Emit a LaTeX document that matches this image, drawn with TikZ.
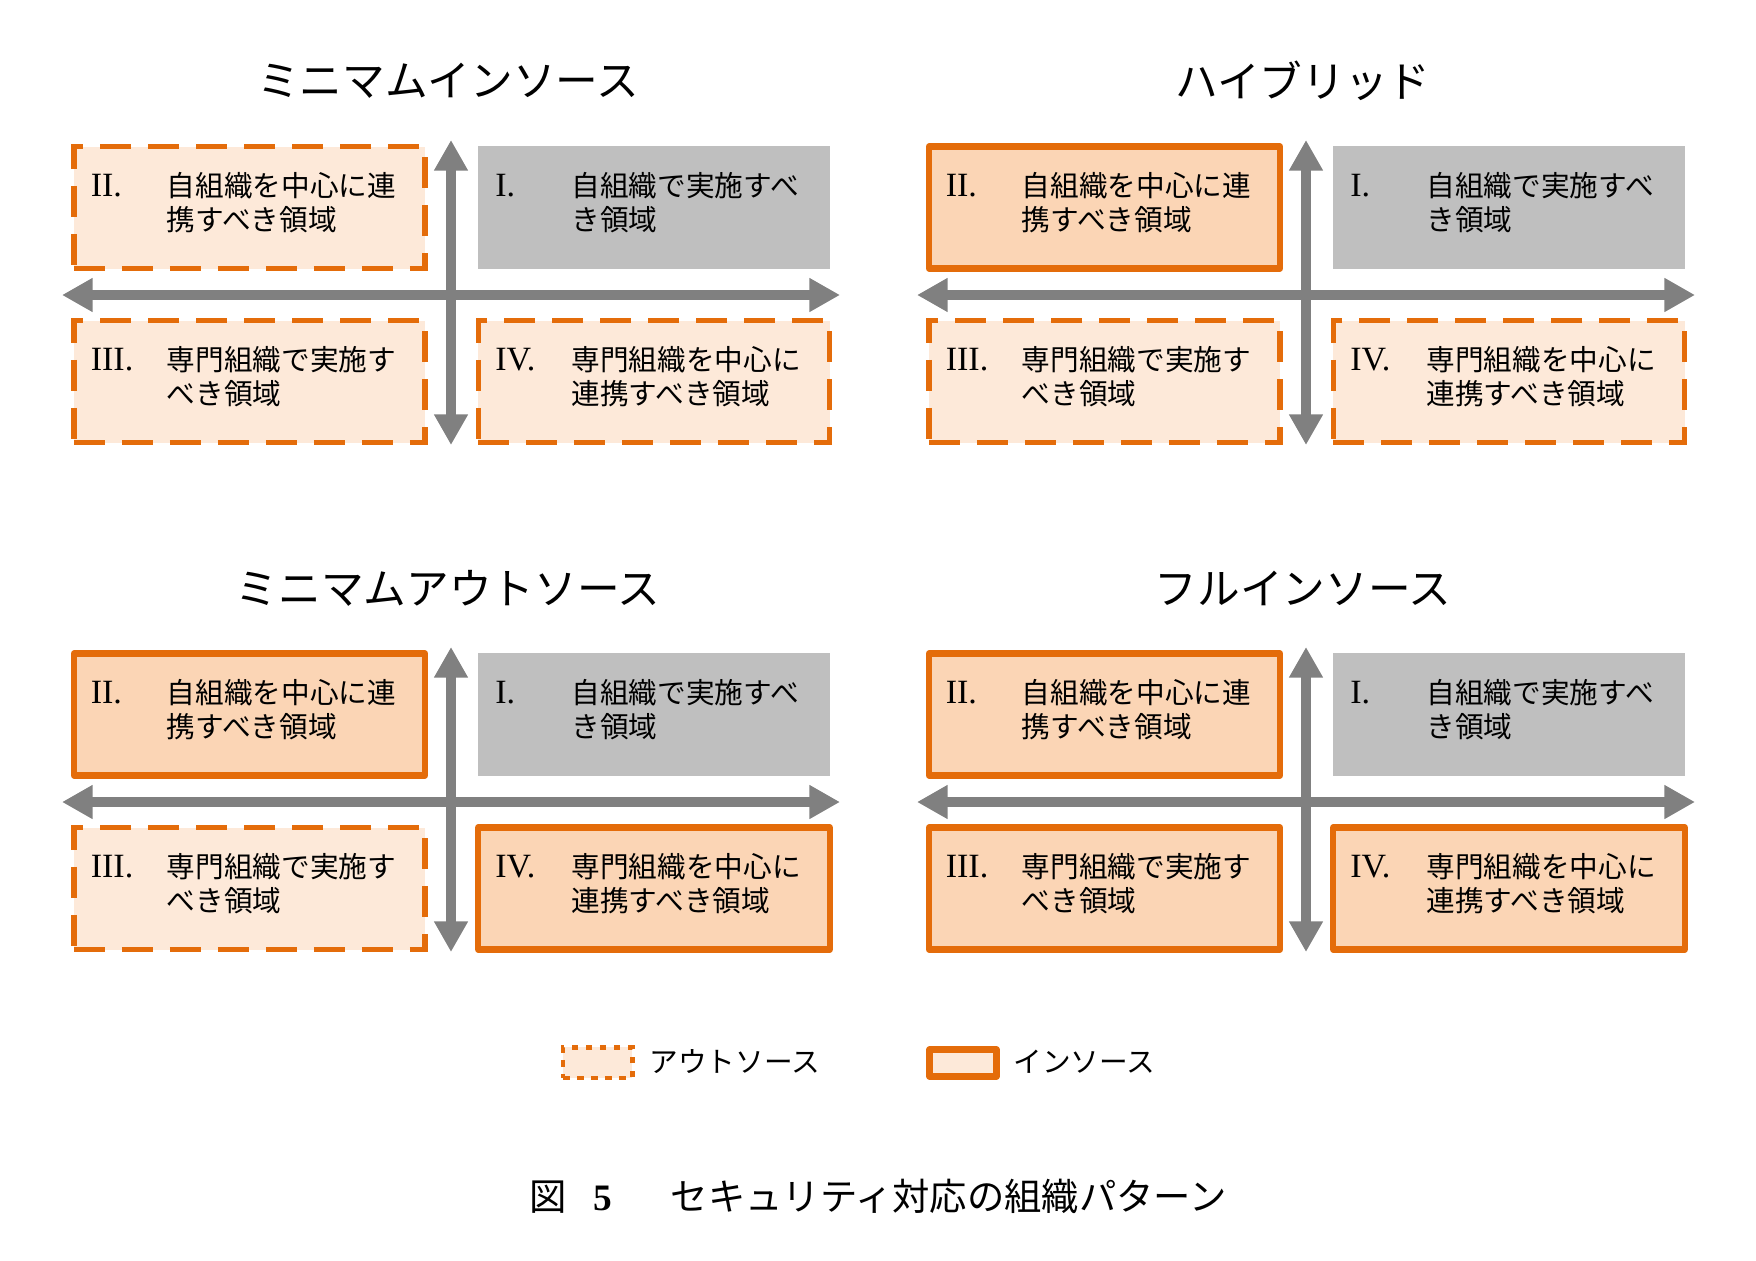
\documentclass[tikz,border=0pt]{standalone}
\usepackage{fontspec}
\setmainfont{Noto Sans CJK JP}
\newfontfamily\numfont{Liberation Serif}
\usetikzlibrary{arrows.meta}

\definecolor{boxorange}{RGB}{228,108,10}
\definecolor{outfill}{RGB}{253,233,217}
\definecolor{infill}{RGB}{251,213,181}
\definecolor{selfgray}{RGB}{191,191,191}
\definecolor{axisgray}{RGB}{128,128,128}

% numeral + two lines of area text
\newcommand{\qtext}[3]{\makebox[57pt][l]{\numfont\fontsize{25.5}{25.5}\selectfont #1}#2\\\hspace*{57pt}#3\rule[-9.5pt]{0pt}{0pt}}

\tikzset{every picture/.style={line width=0.75pt}}
\tikzset{
  quad/.style={align=left, text width=238pt, inner sep=0pt, font=\fontsize{21.5}{25.5}\selectfont},
  outbox/.style={quad, draw=boxorange, fill=outfill, line width=4.2pt, dash pattern=on 23pt off 13pt, minimum width=263.5pt, minimum height=91.5pt},
  inbox/.style={quad, draw=boxorange, fill=infill, line width=4.6pt, line join=round, minimum width=263.5pt, minimum height=91.5pt},
  selfbox/.style={quad, fill=selfgray, minimum width=264pt, minimum height=92pt},
  axis/.style={draw=axisgray, line width=7.5pt, {Triangle[length=23pt,width=24pt]}-{Triangle[length=23pt,width=24pt]}},
  patterntitle/.style={font=\fontsize{32}{38}\selectfont},
  legout/.style={draw=boxorange, fill=outfill, line width=3.5pt, dash pattern=on 5pt off 5.5pt, minimum width=52pt, minimum height=23pt, inner sep=0pt},
  legin/.style={draw=boxorange, fill=outfill, line width=5pt, line join=round, minimum width=50pt, minimum height=20pt, inner sep=0pt},
  legendtext/.style={font=\fontsize{21.5}{25}\selectfont, anchor=west, inner sep=0pt},
}

\begin{document}
\begin{tikzpicture}[x=0.75pt,y=0.75pt,yscale=-1,xscale=1]
\useasboundingbox (0,0) rectangle (1756,1260);

%Minimum insource (top left)
\node[patterntitle] (mititle) at (448,81) {ミニマムインソース};
\coordinate (miW) at (62,295);
\coordinate (miE) at (840,295);
\coordinate (miN) at (451,140);
\coordinate (miS) at (451,445);
\draw[axis] (miW) -- (miE);
\draw[axis] (miN) -- (miS);
\node[outbox] (mi2) at (249.5,207.5) {\qtext{II.}{自組織を中心に連}{携すべき領域}};
\node[selfbox] (mi1) at (654,207.5) {\qtext{I.}{自組織で実施すべ}{き領域}};
\node[outbox] (mi3) at (249.5,381.5) {\qtext{III.}{専門組織で実施す}{べき領域}};
\node[outbox] (mi4) at (654,381.5) {\qtext{IV.}{専門組織を中心に}{連携すべき領域}};

%Hybrid (top right)
\node[patterntitle] (hytitle) at (1303,81) {ハイブリッド};
\coordinate (hyW) at (917,295);
\coordinate (hyE) at (1695,295);
\coordinate (hyN) at (1306,140);
\coordinate (hyS) at (1306,445);
\draw[axis] (hyW) -- (hyE);
\draw[axis] (hyN) -- (hyS);
\node[inbox] (hy2) at (1104.5,207.5) {\qtext{II.}{自組織を中心に連}{携すべき領域}};
\node[selfbox] (hy1) at (1509,207.5) {\qtext{I.}{自組織で実施すべ}{き領域}};
\node[outbox] (hy3) at (1104.5,381.5) {\qtext{III.}{専門組織で実施す}{べき領域}};
\node[outbox] (hy4) at (1509,381.5) {\qtext{IV.}{専門組織を中心に}{連携すべき領域}};

%Minimum outsource (bottom left)
\node[patterntitle] (motitle) at (448,588) {ミニマムアウトソース};
\coordinate (moW) at (62,802);
\coordinate (moE) at (840,802);
\coordinate (moN) at (451,647);
\coordinate (moS) at (451,952);
\draw[axis] (moW) -- (moE);
\draw[axis] (moN) -- (moS);
\node[inbox] (mo2) at (249.5,714.5) {\qtext{II.}{自組織を中心に連}{携すべき領域}};
\node[selfbox] (mo1) at (654,714.5) {\qtext{I.}{自組織で実施すべ}{き領域}};
\node[outbox] (mo3) at (249.5,888.5) {\qtext{III.}{専門組織で実施す}{べき領域}};
\node[inbox] (mo4) at (654,888.5) {\qtext{IV.}{専門組織を中心に}{連携すべき領域}};

%Full insource (bottom right)
\node[patterntitle] (fititle) at (1303,588) {フルインソース};
\coordinate (fiW) at (917,802);
\coordinate (fiE) at (1695,802);
\coordinate (fiN) at (1306,647);
\coordinate (fiS) at (1306,952);
\draw[axis] (fiW) -- (fiE);
\draw[axis] (fiN) -- (fiS);
\node[inbox] (fi2) at (1104.5,714.5) {\qtext{II.}{自組織を中心に連}{携すべき領域}};
\node[selfbox] (fi1) at (1509,714.5) {\qtext{I.}{自組織で実施すべ}{き領域}};
\node[inbox] (fi3) at (1104.5,888.5) {\qtext{III.}{専門組織で実施す}{べき領域}};
\node[inbox] (fi4) at (1509,888.5) {\qtext{IV.}{専門組織を中心に}{連携すべき領域}};

%Legend
\node[legout] (lgout) at (597.5,1062.5) {};
\node[legendtext] (lgouttext) at (649,1062) {アウトソース};
\node[legin] (lgin) at (963,1063) {};
\node[legendtext] (lgintext) at (1013,1062) {インソース};

%Caption
\node[font=\fontsize{28}{34}\selectfont] (caption) at (878,1196) {図\hspace{20pt}{\numfont\bfseries 5}\hspace{44pt}セキュリティ対応の組織パターン};

\end{tikzpicture}
\end{document}
